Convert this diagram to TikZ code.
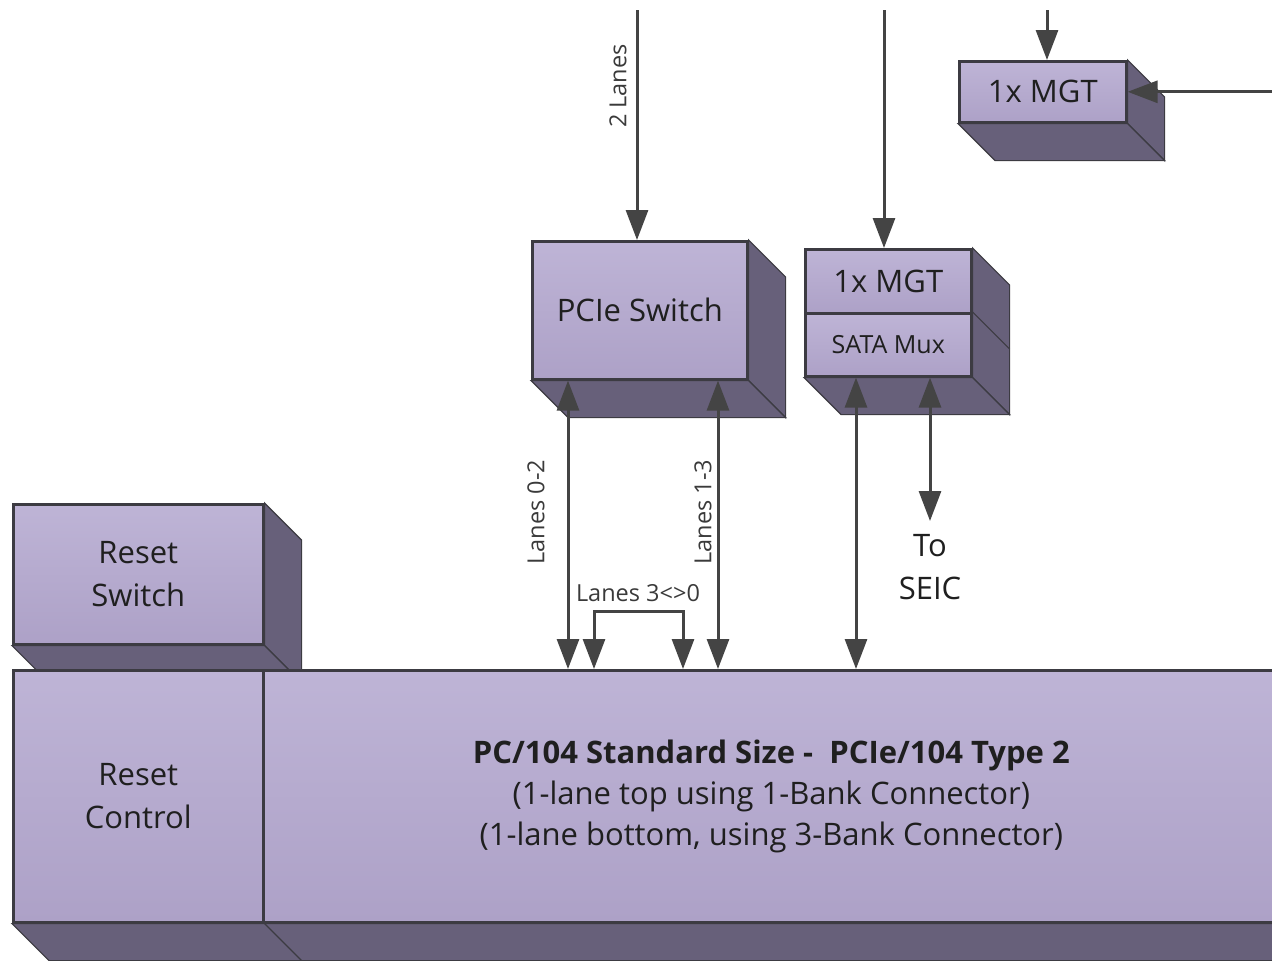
\documentclass[tikz,border=0pt]{standalone}
\usepackage{fontspec}
\setmainfont{Open Sans}
\usetikzlibrary{arrows.meta,calc}

\definecolor{faceTop}{HTML}{BEB4D6}
\definecolor{faceBot}{HTML}{ADA1C7}
\definecolor{sideCol}{HTML}{67607A}
\definecolor{edgeCol}{HTML}{3C3B42}
\definecolor{wireCol}{HTML}{444444}
\definecolor{labelCol}{HTML}{3A3A3A}

\newcommand\fsBox{\fontsize{31}{43}\selectfont}
\newcommand\fsSmall{\fontsize{23.5}{26}\selectfont}
\newcommand\fsMux{\fontsize{25}{28}\selectfont}
\newcommand\fsMain{\fontsize{31}{41}\selectfont}
\newcommand\boxDepth{37}

% depth faces of a front rectangle spanning nodes #1 (top) to #2 (bottom)
\newcommand\depthFaces[2]{%
  \filldraw[side] (#1.north east) -- ++(\boxDepth,\boxDepth)
    -- ($(#2.south east)+(\boxDepth,\boxDepth)$) -- (#2.south east) -- cycle;
  \filldraw[side] (#2.south west) -- (#2.south east)
    -- ($(#2.south east)+(\boxDepth,\boxDepth)$)
    -- ($(#2.south west)+(\boxDepth,\boxDepth)$) -- cycle;
}

\tikzset{
  front/.style={draw=edgeCol, line width=2.6pt, top color=faceTop, bottom color=faceBot,
    inner sep=0pt, anchor=north west, align=center, text=black!88, font=\fsBox},
  side/.style={fill=sideCol, draw=edgeCol, line width=1.2pt, line join=miter},
  wire/.style={draw=wireCol, line width=3pt, -{Triangle[length=30pt,width=22pt]}},
  biwire/.style={draw=wireCol, line width=3pt,
    {Triangle[length=30pt,width=22pt]}-{Triangle[length=30pt,width=22pt]}},
  lanelabel/.style={font=\fsSmall, text=labelCol, inner sep=0pt},
}

\begin{document}
\begin{tikzpicture}[x=1pt, y=-1pt]
\useasboundingbox (0,0) rectangle (1272,961);
\clip (0,0) rectangle (1272,961);

% ---- reset switch (drawn first, the base board overlaps its lower face)
\node[front, minimum width=250, minimum height=140] (rsw) at (12,503) {Reset\\Switch};
\depthFaces{rsw}{rsw}

% ---- base board
\node[front, minimum width=250, minimum height=252] (rctl) at (12,669) {Reset\\Control};
\node[front, minimum width=1016, minimum height=252, font=\fsMain] (pc) at (262,669)
  {{\bfseries PC/104 Standard Size -\ \ PCIe/104 Type 2}\\
   (1-lane top using 1-Bank Connector)\\
   (1-lane bottom, using 3-Bank Connector)};
\filldraw[side] (rctl.south west) -- (pc.south east)
  -- ($(pc.south east)+(\boxDepth,\boxDepth)$)
  -- ($(rctl.south west)+(\boxDepth,\boxDepth)$) -- cycle;
\draw[edgeCol, line width=1.2pt] (rctl.south east) -- ++(\boxDepth,\boxDepth);

% ---- PCIe switch
\node[front, minimum width=215, minimum height=138] (pcie) at (531,240) {PCIe Switch};
\depthFaces{pcie}{pcie}

% ---- MGT with SATA mux
\node[front, minimum width=166, minimum height=64] (mgt) at (804,248) {1x MGT};
\node[front, minimum width=166, minimum height=63, font=\fsMux] (sata) at (804,312) {SATA Mux};
\depthFaces{mgt}{sata}
\draw[edgeCol, line width=1.2pt] (sata.north east) -- ++(\boxDepth,\boxDepth);

% ---- upper right MGT
\node[front, minimum width=167, minimum height=61] (mgtb) at (958,60) {1x MGT};
\depthFaces{mgtb}{mgtb}

% ---- incoming links from above and from the right
\coordinate (inA) at (637,10);
\coordinate (inB) at (884,10);
\coordinate (inC) at (1047,10);
\coordinate (inD) at (1272,0);
\draw[wire] (inA) -- (inA |- pcie.north);
\draw[wire] (inB) -- (inB |- mgt.north);
\draw[wire] (inC) -- (inC |- mgtb.north);
\draw[wire] (inD |- mgtb.east) -- (mgtb.east);
\node[lanelabel, rotate=90] (lab2) at (618,86) {2 Lanes};

% ---- links between the switch, the MGT and the base board
\coordinate (xA) at (568,0);
\coordinate (xB) at (718,0);
\coordinate (xC) at (856,0);
\coordinate (xD) at (930,0);
\coordinate (bL) at (594,611);
\coordinate (bR) at (683,611);
\draw[biwire] (xA |- pcie.south) -- (xA |- pc.north);
\draw[biwire] (xB |- pcie.south) -- (xB |- pc.north);
\draw[biwire] (bL |- pc.north) -- (bL) -- (bR) -- (bR |- pc.north);
\draw[biwire] (xC |- sata.south) -- (xC |- pc.north);
\node[font=\fsBox, align=center, inner sep=0pt, text=black!88] (seic) at (930,567) {To\\SEIC};
\coordinate (seicEnd) at (930,521);
\draw[biwire] (xD |- sata.south) -- (seicEnd);

\node[lanelabel, rotate=90] (lab02) at (536,512) {Lanes 0-2};
\node[lanelabel, rotate=90] (lab13) at (703,512) {Lanes 1-3};
\node[lanelabel] (lab30) at (638,593) {Lanes 3<>0};
\end{tikzpicture}
\end{document}
